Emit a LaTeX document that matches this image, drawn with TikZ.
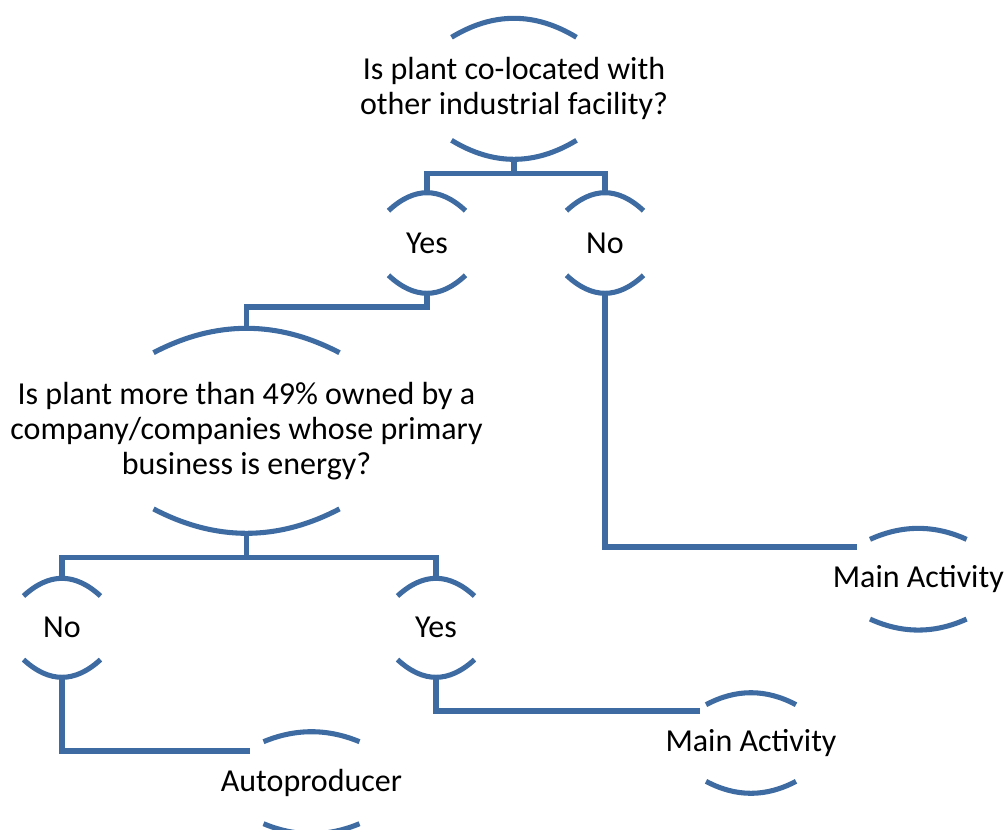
\documentclass[tikz,border=0pt]{standalone}
\usepackage{fontspec}
\setmainfont{Carlito}
\usetikzlibrary{calc}
\definecolor{lineblue}{RGB}{62,108,162}
\newcommand{\arcpair}[4]{%
  \draw[arcline] ($(#1.center)+(-#2,-#3+#4)$) .. controls ($(#1.center)+(-#2/3,-#3-#4/3)$) and ($(#1.center)+(#2/3,-#3-#4/3)$) .. ($(#1.center)+(#2,-#3+#4)$);
  \draw[arcline] ($(#1.center)+(-#2,#3-#4)$) .. controls ($(#1.center)+(-#2/3,#3+#4/3)$) and ($(#1.center)+(#2/3,#3+#4/3)$) .. ($(#1.center)+(#2,#3-#4)$);}
\begin{document}
\begin{tikzpicture}[x=0.75pt,y=-0.75pt,
  lbl/.style={inner sep=0pt, align=center, font=\fontsize{24}{26.3}\selectfont, text=black},
  conn/.style={draw=lineblue, line width=4.2pt},
  arcline/.style={draw=lineblue, line width=3.8pt}]
\useasboundingbox (0,0) rectangle (1006,829);

% nodes
\node[lbl, minimum height=105.75pt] (q1) at (514,88.8) {Is plant co-located with\\other industrial facility?};
\node[lbl, minimum height=75.45pt] (yes1) at (427,243) {Yes};
\node[lbl, minimum height=75.45pt] (no1) at (605,243) {No};
\node[lbl, minimum height=153.75pt] (q2) at (246.5,430.8) {Is plant more than 49\% owned by a\\company/companies whose primary\\business is energy?};
\node[lbl, minimum height=74.25pt] (no2) at (62,627.8) {No};
\node[lbl, minimum height=74.25pt] (yes2) at (436,627.8) {Yes};
\node[lbl, minimum height=76.5pt] (auto) at (311.5,782.7) {Autoproducer};
\node[lbl, minimum height=76.3pt] (ma1) at (918.3,579.2) {Main Activity};
\node[lbl, minimum height=75.5pt] (ma2) at (751,743) {Main Activity};

% arcs
\arcpair{q1}{62.5}{70.5}{19}
\arcpair{yes1}{38.5}{50.3}{18}
\arcpair{no1}{38.5}{50.3}{18}
\arcpair{q2}{93}{102.5}{24.4}
\arcpair{no2}{38.5}{49.5}{17.7}
\arcpair{yes2}{38.5}{49.5}{17.7}
\arcpair{auto}{48}{51}{10}
\arcpair{ma1}{48.3}{50.85}{11}
\arcpair{ma2}{45}{50.3}{12}

% connector end coordinates
\coordinate (ma1in) at ($(ma1.center)+(-61,-32.5)$);
\coordinate (autoin) at ($(auto.center)+(-61.5,-32)$);
\coordinate (ma2in) at ($(ma2.center)+(-51,-32.3)$);

% connectors
\draw[conn] (q1.south) -- ++(0,14) -| (yes1.north);
\draw[conn] (q1.south) -- ++(0,14) -| (no1.north);
\draw[conn] (yes1.south) -- ++(0,13.4) -| (q2.north);
\draw[conn] (no1.south) |- (ma1in);
\draw[conn] (q2.south) -- ++(0,24) -| (no2.north);
\draw[conn] (q2.south) -- ++(0,24) -| (yes2.north);
\draw[conn] (no2.south) |- (autoin);
\draw[conn] (yes2.south) |- (ma2in);
\end{tikzpicture}
\end{document}
